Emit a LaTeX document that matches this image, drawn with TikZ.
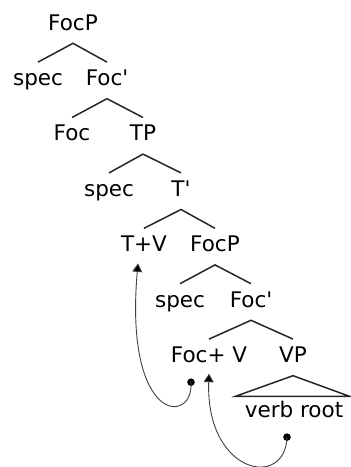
\documentclass[tikz,border=0pt]{standalone}
\usepackage{fontspec}
\setmainfont{DejaVu Sans}
\usetikzlibrary{arrows.meta}

\tikzset{
	cat/.style={font=\fontsize{21.5}{26}\selectfont, text height=15.7pt, text depth=5.5pt, inner xsep=2pt, inner ysep=7.5pt},
	branch/.style={line width=1.5pt, black!85},
	move/.style={line width=0.9pt, black!75, -{Triangle[width=10pt,length=8.5pt,fill=black]}},
}

\begin{document}
\begin{tikzpicture}[x=1pt,y=1pt]
		\useasboundingbox (0,0) rectangle (351,467);
		
		%Categories, one row per level
		\node[cat] (focp) at (73,442) {FocP};
		\node[cat] (specA) at (38,386.6) {spec};
		\node[cat] (focbarA) at (107,386.6) {Foc\textquotesingle};
		\node[cat] (foc) at (72,331.2) {Foc};
		\node[cat] (tp) at (143,331.2) {TP};
		\node[cat] (specB) at (109,275.8) {spec};
		\node[cat] (tbar) at (181,275.8) {T\textquotesingle};
		\node[cat] (tv) at (144,220.4) {T+V};
		\node[cat] (focpB) at (215,220.4) {FocP};
		\node[cat] (specC) at (180,165) {spec};
		\node[cat] (focbarB) at (251,165) {Foc\textquotesingle};
		\node[cat] (focv) at (209,109.6) {Foc+ V};
		\node[cat] (vp) at (293,109.6) {VP};
		\node[cat] (root) at (294,54.2) {verb root};
		
		%Drawing branches
		\draw[branch] (specA.north) -- (focp.south) -- (focbarA.north);
		\draw[branch] (foc.north) -- (focbarA.south) -- (tp.north);
		\draw[branch] (specB.north) -- (tp.south) -- (tbar.north);
		\draw[branch] (tv.north) -- (tbar.south) -- (focpB.north);
		\draw[branch] (specC.north) -- (focpB.south) -- (focbarB.north);
		\draw[branch] (focv.north) -- (focbarB.south) -- (vp.north);
		\draw[branch] (vp.south) -- ([xshift=-59pt,yshift=-2pt]root.north) -- ([xshift=56pt,yshift=-2pt]root.north) -- cycle;
		
		%Traces and landing sites
		\coordinate (dA) at ([shift={(-18pt,-6.5pt)}]focv.south);
		\coordinate (tA) at ([shift={(-6pt,1.5pt)}]tv.south);
		\coordinate (dB) at ([shift={(-7pt,-6pt)}]root.south);
		\coordinate (tB) at ([yshift=2pt]focv.south);
		
		%Drawing movement arrows
		\fill (dA) circle (3.8pt);
		\fill (dB) circle (3.8pt);
		\draw[move] (dA) to[out=-86,in=-95,out distance=43pt,in distance=162pt] (tA);
		\draw[move] (dB) to[out=-92,in=-92,out distance=53pt,in distance=100pt] (tB);
	\end{tikzpicture}
\end{document}
